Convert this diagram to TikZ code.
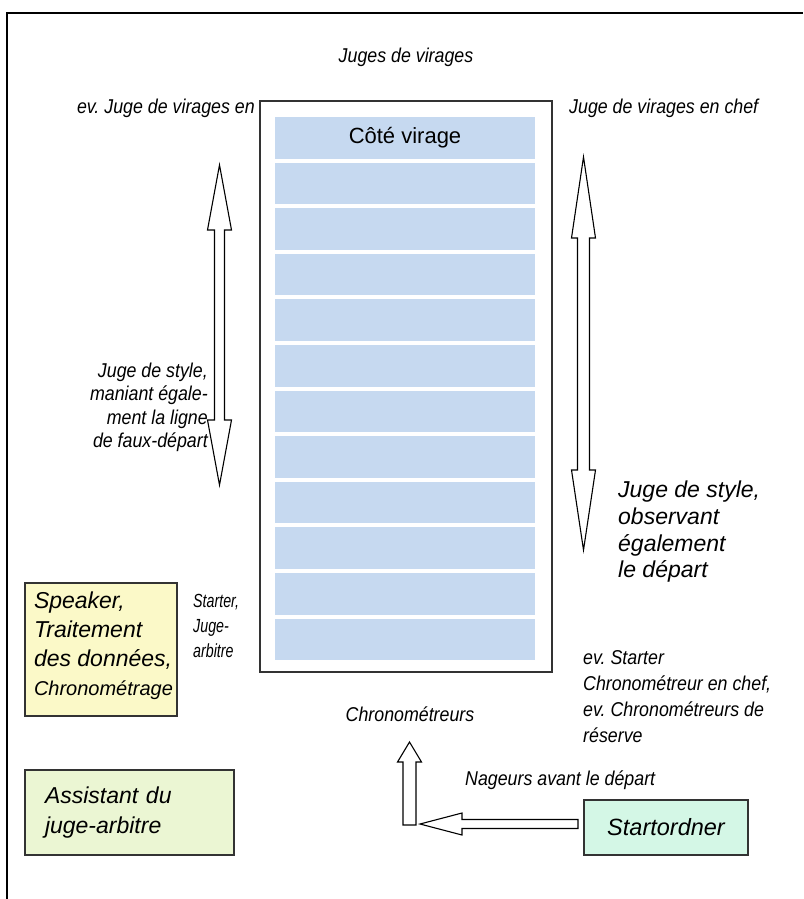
\documentclass[tikz,border=0pt]{standalone}
\usepackage{fontspec}
\setmainfont{Liberation Sans}
\newfontfamily\narrowsf{Liberation Sans}[FakeStretch=0.89]
\newfontfamily\tightsf{Liberation Sans}[FakeStretch=0.75]
\definecolor{laneblue}{HTML}{C6D9F0}
\definecolor{speakeryellow}{HTML}{FBF9C8}
\definecolor{assistgreen}{HTML}{EBF6D3}
\definecolor{startmint}{HTML}{D4F7E6}
\frenchspacing
\begin{document}
\begin{tikzpicture}[x=1pt, y=-1pt,
      lbl/.style={font=\narrowsf\itshape\fontsize{20}{24}\selectfont, inner sep=0pt},
      big/.style={font=\itshape\fontsize{23}{27}\selectfont, inner sep=0pt},
      lane/.style={fill=laneblue, minimum width=260, minimum height=41.5, inner sep=0pt},
      card/.style={draw=black!80, line width=1.4pt, inner sep=0pt, align=left, font=\itshape\fontsize{23}{29}\selectfont},
      hollow/.style={draw, fill=white, line width=1.1pt, line join=miter}]
    \useasboundingbox (0,0) rectangle (803,899);
    \draw[line width=1.8pt] (7,899) -- (7,13) -- (803,13);
    \node[draw=black!80, line width=1.4pt, fill=white, minimum width=292, minimum height=571, inner sep=0pt] (pool) at (406,386.5) {};
    \foreach \i in {1,...,12}
      \node[lane] (lane\i) at (405,92.15+\i*45.6) {};
    \node[font=\fontsize{22}{26}\selectfont, inner sep=0pt] (cote) at (lane1) {Côté virage};
    \node[lbl] (juges) at (406,57) {Juges de virages};
    \node[lbl, anchor=east] (evjuge) at (255,108) {ev. Juge de virages en};
    \node[lbl, anchor=west] (chef) at (569,108) {Juge de virages en chef};
    \node[lbl, anchor=north east, align=right, font=\narrowsf\itshape\fontsize{20}{23.3}\selectfont] (styleL) at (208,363) {Juge de style,\\maniant égale-\\ment la ligne\\de faux-départ};
    \node[big, anchor=north west, align=left, font=\itshape\fontsize{23}{26.7}\selectfont] (styleR) at (618,481) {Juge de style,\\observant\\également\\le départ};
    \node[lbl, anchor=north west, align=left, font=\tightsf\itshape\fontsize{19}{25}\selectfont] (starter) at (193,594) {Starter,\\Juge-\\arbitre};
    \node[lbl] (chrono) at (410,714) {Chronométreurs};
    \node[lbl, anchor=north west, align=left, font=\narrowsf\itshape\fontsize{20}{26}\selectfont] (chefchrono) at (583,650) {ev. Starter\\Chronométreur en chef,\\ev. Chronométreurs de\\réserve};
    \node[lbl, anchor=west] (nageurs) at (465,780) {Nageurs avant le départ};
    \node[card, fill=speakeryellow, minimum width=152, minimum height=133] (speaker) at (101,649.5) {};
    \node[card, draw=none, anchor=west] (speakertext) at ([xshift=9pt, yshift=4pt]speaker.west) {Speaker,\\Traitement\\des données,\\{\fontsize{20}{29}\selectfont Chronométrage}};
    \node[card, fill=assistgreen, minimum width=209, minimum height=85, text width=169, font=\itshape\fontsize{23}{30}\selectfont] (assist) at (129.5,812.5) {Assistant du\\juge-arbitre};
    \node[card, fill=startmint, minimum width=164, minimum height=55, align=center, font=\itshape\fontsize{23.5}{28}\selectfont] (start) at (666,827.5) {Startordner};
    \draw[hollow] (219.5,165) -- (231.5,230) -- (224.5,230) -- (224.5,420) -- (231.5,420) -- (219.5,485)
      -- (207.5,420) -- (214.5,420) -- (214.5,230) -- (207.5,230) -- cycle;
    \draw[hollow] (583.5,157) -- (595.5,238) -- (589.5,238) -- (589.5,470) -- (595.5,470) -- (583.5,550)
      -- (571.5,470) -- (577.5,470) -- (577.5,238) -- (571.5,238) -- cycle;
    \draw[hollow] (409.5,742) -- (421.5,762) -- (416,762) -- (416,825) -- (403,825) -- (403,762) -- (397.5,762) -- cycle;
    \draw[hollow] (420,824) -- (462,813) -- (462,819.5) -- (578,819.5) -- (578,828.5) -- (462,828.5) -- (462,835) -- cycle;
  \end{tikzpicture}
\end{document}
